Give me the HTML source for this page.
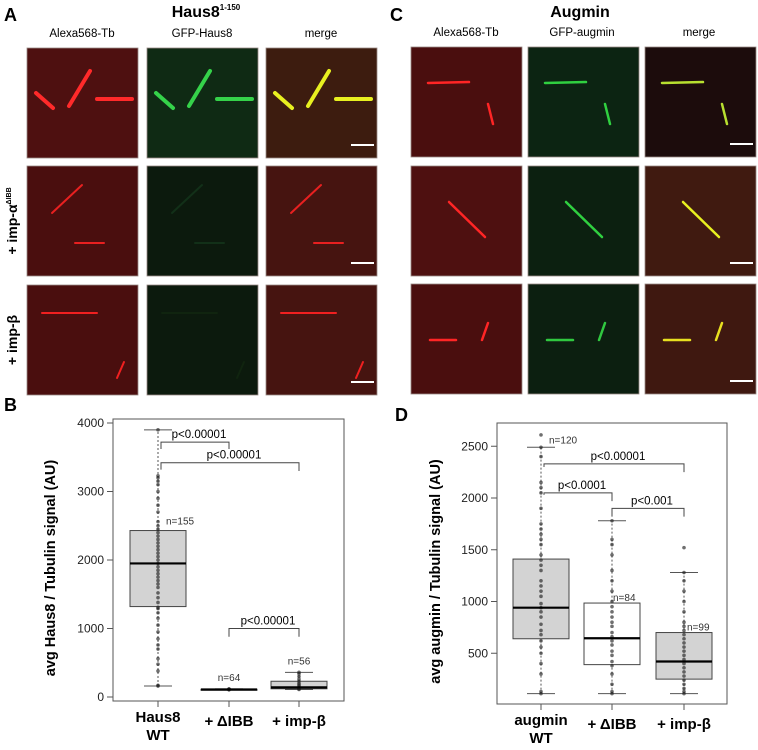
<!DOCTYPE html>
<html><head><meta charset="utf-8"><style>
body{margin:0;background:#fff;}
svg{display:block;font-family:"Liberation Sans",sans-serif;}
</style></head><body>
<svg id="fig" width="758" height="750" viewBox="0 0 758 750"></svg>
<script>
// ---------- chart data ----------
const catsB = ["Haus8|WT", "+ ΔIBB", "+ imp-β"];
const statsB = [[160,1320,1950,2430,3900],[105,108,110,113,118],[110,120,140,230,360]];
const nB = ["n=155","n=64","n=56"];
const ticksB = [0,1000,2000,3000,4000];
const ptsB0 = [160,170,380,480,560,700,760,850,950,1050,1150,1230,1290,1310,1380,1450,1520,1600,1650,1700,1750,1800,1850,1900,1950,2000,2050,2100,2150,2200,2250,2300,2350,2400,2450,2500,2560,2700,2800,2900,3000,3100,3150,3200,3230,3900];
const ptsB1 = [105,110,112,115,118];
const ptsB2 = [110,120,130,140,160,180,200,230,260,300,340,360];
const catsD = ["augmin|WT", "+ ΔIBB", "+ imp-β"];
const statsD = [[110,640,940,1410,2490],[110,390,645,985,1780],[110,250,420,700,1280]];
const nD = ["n=120","n=84","n=99"];
const ticksD = [500,1000,1500,2000,2500];
const ptsD0 = [110,130,300,400,500,560,620,680,720,780,850,900,940,980,1050,1100,1150,1200,1300,1350,1400,1450,1550,1600,1650,1700,1750,1900,2050,2100,2150,2400,2490,2610];
const ptsD1 = [110,130,200,300,380,420,480,520,580,620,660,700,760,800,850,900,950,1000,1100,1200,1300,1450,1550,1600,1780];
const ptsD2 = [110,130,160,200,240,280,320,360,400,440,480,520,560,600,640,680,720,760,800,900,1000,1100,1200,1280,1520];
const bracketsB = [[0,1,3720,3620,3620,"p<0.00001"],[0,2,3420,3320,3300,"p<0.00001"],[1,2,1000,880,880,"p<0.00001"]];
const bracketsD = [[0,2,2330,2300,2250,"p<0.00001"],[0,1,2050,2030,1970,"p<0.0001"],[1,2,1900,1820,1820,"p<0.001"]];

const NS="http://www.w3.org/2000/svg";
const svg=document.getElementById('fig');
function el(tag,attrs,parent,text){const e=document.createElementNS(NS,tag);for(const k in attrs)e.setAttribute(k,attrs[k]);if(text!==undefined)e.textContent=text;(parent||svg).appendChild(e);return e;}

// ---------- microscopy panels ----------
function panel(x,y,w,h,bg,lines,col,name,scale){
  const g=el('g',{});
  
  
  el('rect',{x:x,y:y,width:w,height:h,fill:bg,stroke:'#9a8a86','stroke-width':0.8},g);
  lines.forEach(l=>{
    el('line',{x1:x+l[0],y1:y+l[1],x2:x+l[2],y2:y+l[3],stroke:col,'stroke-width':l[4]||3,'stroke-linecap':'round'},g);
  });
  if(scale){const s=el('line',{x1:x+w-26,y1:y+h-13,x2:x+w-3,y2:y+h-13,stroke:'#fff','stroke-width':2},g);
    }
}
const AX=[27,147,266], CX=[411,528,645], RY=[48,166,285], CRY=[47,166,284], W=111, H=110;
const aLines=[];
aLines[0]=[[9,45,26,60,4],[63,23,42,58,4],[70,51,105,51,4]];
aLines[1]=[[55,19,25,47,2],[48,77,77,77,2]];
aLines[2]=[[15,28,70,28,2],[97,77,90,93,2]];
const aBg=[["#4e1010","#0f2a14","#3d1c0f"],["#4a0e0e","#0c1a0d","#461410"],["#4a0e0e","#0c1a0d","#461410"]];
const aCol=[["#ff2a2a","#35d24a","#e8f020"],["#e82020","#123018","#e82020"],["#f02020","#10240f","#f02020"]];
for(let r=0;r<3;r++)for(let c=0;c<3;c++)panel(AX[c],RY[r],W,H,aBg[r][c],aLines[r],aCol[r][c],'haus8-image-r'+(r+1)+'-c'+(c+1),c==2);
const cLines=[[[17,36,58,35,2.5],[77,57,82,77,2.5]],[[38,36,74,71,2.5]],[[19,56,45,56,2.5],[77,39,71,56,2.5]]];
const cBg=[["#4a0e0e","#0c2412","#1c0c0c"],["#4e1010","#0c2010","#401a10"],["#4a0e0e","#0c1f10","#3f1810"]];
const cCol=[["#ff2525","#30d040","#b8e030"],["#ff2525","#30d040","#e8f020"],["#ff2525","#30c840","#e8e020"]];
for(let r=0;r<3;r++)for(let c=0;c<3;c++)panel(CX[c],CRY[r],W,H,cBg[r][c],cLines[r],cCol[r][c],'augmin-image-r'+(r+1)+'-c'+(c+1),c==2);

function txt(x,y,s,attrs,name){const t=el('text',Object.assign({x:x,y:y},attrs||{}),svg,s);return t;}
txt(4,21,"A",{'font-size':18,'font-weight':'bold'},'panel-a-label');
txt(4,411,"B",{'font-size':18,'font-weight':'bold'},'panel-b-label');
txt(390,21,"C",{'font-size':18,'font-weight':'bold'},'panel-c-label');
txt(395,421,"D",{'font-size':18,'font-weight':'bold'},'panel-d-label');
const tA=txt(206,17,"Haus8",{'font-size':16,'font-weight':'bold','text-anchor':'middle'},'haus8-title');
el('tspan',{'font-size':8,dy:-7},tA,"1-150");
txt(580,17,"Augmin",{'font-size':16,'font-weight':'bold','text-anchor':'middle'},'augmin-title');
[["Alexa568-Tb",82],["GFP-Haus8",202],["merge",321]].forEach((h,i)=>txt(h[1],37,h[0],{'font-size':11.5,'text-anchor':'middle'},'haus8-col-header-'+(i+1)));
[["Alexa568-Tb",466],["GFP-augmin",582],["merge",699]].forEach((h,i)=>txt(h[1],36,h[0],{'font-size':11.5,'text-anchor':'middle'},'augmin-col-header-'+(i+1)));
const r1=txt(0,0,"+ imp-α",{'font-size':14,'font-weight':'bold','text-anchor':'middle',transform:'translate(17,221) rotate(-90)'},'row-label-imp-alpha');
el('tspan',{'font-size':7,dy:-6},r1,"ΔIBB");
txt(0,0,"+ imp-β",{'font-size':14,'font-weight':'bold','text-anchor':'middle',transform:'translate(17,340) rotate(-90)'},'row-label-imp-beta');

// ---------- box plots ----------
function boxplot(cfg){
  const {fx,fy,fw,fh,y0,ppu,cx,stats,pts,ticks,cats,ns,nPos,brackets,fills,title,pre}=cfg;
  const Y=v=>y0-v*ppu;
  const g=el('g',{});
  el('rect',{x:fx,y:fy,width:fw,height:fh,fill:'none',stroke:'#555','stroke-width':1},g);
  ticks.forEach(t=>{
    const l=el('line',{x1:fx-6,x2:fx,y1:Y(t),y2:Y(t),stroke:'#555'},g);
    
    const tx=el('text',{x:fx-9,y:Y(t)+4,'font-size':12,'text-anchor':'end',fill:'#222'},g,String(t));
    
  });
  cats.forEach((c,i)=>{
    const x=cx[i];const s=stats[i];
    el('line',{x1:x,x2:x,y1:fy+fh,y2:fy+fh+6,stroke:'#555'},g);
    const parts=c.split('|');
    parts.forEach((p,j)=>{const t=el('text',{x:x,y:fy+fh+25+(parts.length>1?(j*18-4):(j*18)),'font-size':15,'font-weight':'bold','text-anchor':'middle'},g,p);
      });
    const wl=el('line',{x1:x,x2:x,y1:Y(s[0]),y2:Y(s[4]),stroke:'#555','stroke-dasharray':'2,2'},g);
    
    [s[0],s[4]].forEach(v=>el('line',{x1:x-14,x2:x+14,y1:Y(v),y2:Y(v),stroke:'#555'},g));
    const b=el('rect',{x:x-28,y:Y(s[3]),width:56,height:Math.max(1,Y(s[1])-Y(s[3])),fill:fills[i],stroke:'#444'},g);
    
    pts[i].forEach(v=>{const p=el('circle',{cx:x,cy:Y(v),r:1.8,fill:'#222','fill-opacity':0.65},g);
      });
    const m=el('line',{x1:x-28,x2:x+28,y1:Y(s[2]),y2:Y(s[2]),stroke:'#000','stroke-width':2.2},g);
    
    const np=nPos[i];
    const nt=el('text',{x:x+np[0],y:Y(s[np[1]])+np[2],'font-size':10,'text-anchor':np[3],fill:'#333'},g,ns[i]);
    
  });
  brackets.forEach(bk=>{
    const [a,b,yv,ya,yb,lab]=bk;const x1=cx[a]+(a==0?3:0),x2=cx[b];
    const p=el('path',{d:`M${x1},${Y(ya)}V${Y(yv)}H${x2}V${Y(yb)}`,fill:'none',stroke:'#444'},g);
    
    const t=el('text',{x:(x1+x2)/2+4,y:Y(yv)-4,'font-size':11.5,'text-anchor':'middle'},g,lab);
    
  });
  const tt=el('text',{x:0,y:0,'font-size':14.5,'font-weight':'bold','text-anchor':'middle',transform:`translate(${title[1]},${fy+fh/2+8}) rotate(-90)`},g,title[0]);
  
}
boxplot({pre:'haus8',fx:113,fy:419,fw:231,fh:282,y0:697,ppu:274/4000,cx:[158,229,299],stats:statsB,
  pts:[ptsB0,ptsB1,ptsB2],ticks:ticksB,cats:catsB,ns:nB,nPos:[[8,3,-6,'start'],[0,4,-8,'middle'],[0,4,-8,'middle']],
  brackets:bracketsB,fills:['#d3d3d3','#d3d3d3','#d3d3d3'],
  title:["avg Haus8  / Tubulin signal (AU)",55]});
boxplot({pre:'augmin',fx:497,fy:423,fw:230,fh:281,y0:705,ppu:207/2000,cx:[541,612,684],stats:statsD,
  pts:[ptsD0,ptsD1,ptsD2],ticks:ticksD,cats:catsD,ns:nD,nPos:[[8,4,-4,'start'],[1,3,-2,'start'],[3,3,-2,'start']],
  brackets:bracketsD,fills:['#d3d3d3','#ffffff','#d3d3d3'],
  title:["avg augmin  / Tubulin signal (AU)",440]});
</script>
</body></html>
